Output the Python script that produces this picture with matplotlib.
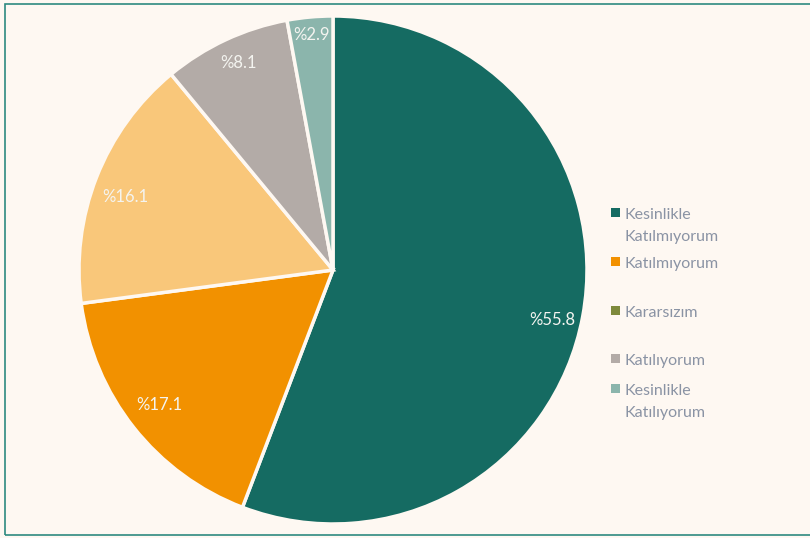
import matplotlib
matplotlib.use("Agg")
import matplotlib.pyplot as plt
from matplotlib.patches import Rectangle
import numpy as np

categories = ["Kesinlikle\nKatılmıyorum", "Katılmıyorum", "Kararsızım", "Katılıyorum", "Kesinlikle\nKatılıyorum"]
slice_values = [55.8, 17.1, 16.1, 8.1, 2.9]
slice_labels = ["%55.8", "%17.1", "%16.1", "%8.1", "%2.9"]
slice_colors = ["#156b62", "#f29100", "#f9c77a", "#b3aba7", "#8bb5ac"]
legend_colors = ["#156b62", "#f29100", "#7e8a3c", "#b3aba7", "#8bb5ac"]

plt.rcParams['font.family'] = ['Lato', 'DejaVu Sans']

W, H = 810, 538
fig = plt.figure(figsize=(W / 100, H / 100), dpi=100)
fig.patch.set_facecolor("#fef8f2")

# frame
fig.add_artist(Rectangle((5 / W, 3 / H), 820 / W, 531 / H, transform=fig.transFigure,
                         fill=False, edgecolor="#2e8a80", linewidth=1.2))

cx, cy, r = 333, 270, 254
ax = fig.add_axes([(cx - r) / W, (H - cy - r) / H, 2 * r / W, 2 * r / H])
ax.set_aspect("equal")
ax.axis("off")

wedges, _ = ax.pie(slice_values, colors=slice_colors, startangle=90, counterclock=False,
                   wedgeprops=dict(edgecolor="#fef8f2", linewidth=2.5), radius=1.0)
ax.set_xlim(-1, 1)
ax.set_ylim(-1, 1)

label_r = [0.884, 0.866, 0.868, 0.897, 0.929]
label_dang = [-2.5, -0.5, 2.2, -0.4, 0.1]
for w, lab, lr, da in zip(wedges, slice_labels, label_r, label_dang):
    ang = np.deg2rad((w.theta1 + w.theta2) / 2 + da)
    ax.text(lr * np.cos(ang), lr * np.sin(ang), lab, ha="center", va="center",
            color="#f4f4f0", fontsize=12)

# legend
legend_y = [212, 261, 310, 358, 388]
for name, col, y in zip(categories, legend_colors, legend_y):
    fig.add_artist(Rectangle((611 / W, (H - y - 4.5) / H), 9 / W, 9 / H,
                             transform=fig.transFigure, facecolor=col, edgecolor="none"))
    fig.text(625 / W, (H - y + 4) / H, name, ha="left", va="top", color="#8a93a4",
             fontsize=11.5, linespacing=1.75)

fig.savefig("out.png", dpi=100, facecolor=fig.get_facecolor())
